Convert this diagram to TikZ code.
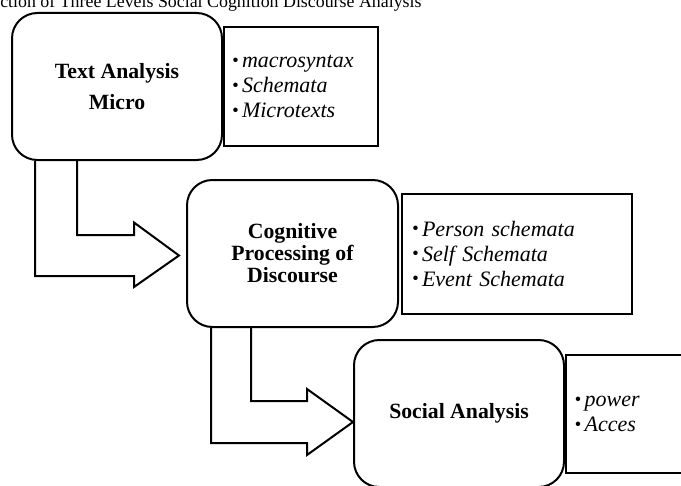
\documentclass[tikz,border=0pt]{standalone}
\usepackage{fontspec}
\setmainfont{Liberation Serif}
\usetikzlibrary{positioning}
\usetikzlibrary{calc}

\tikzset{
	stagebox/.style={draw, line width=1.5pt, rounded corners=19pt, align=center, inner sep=0pt,
		minimum width=157.5pt, minimum height=110.25pt, font=\fontsize{16.3}{16.5}\selectfont\bfseries},
	listbox/.style={draw, line width=1.5pt, align=left, inner ysep=0pt,
		font=\fontsize{16.5}{18.75}\selectfont\itshape},
	blockarrow/.style={line width=1.5pt}
}
\newcommand{\itm}[1]{\makebox[7.5pt][l]{\raisebox{0.8pt}{\fontsize{14}{14}\selectfont\textbullet}}#1}

\begin{document}
\begin{tikzpicture}[x=0.75pt, y=-0.75pt]
		\useasboundingbox (0,0) rectangle (681,485);
		\clip (0,0) rectangle (681,485);
		
		%title, cut off at the top
		\node[anchor=base west, inner sep=0pt, font=\fontsize{13.4}{16}\selectfont] (title) at (0,8) {ction of Three Levels Social Cognition Discourse Analysis};
		
		%stages & lists
		\node[stagebox] (micro) at (117,86.5) {Text Analysis\\[7pt]Micro};
		\node[listbox, right=0pt of micro, minimum height=89.25pt, text width=103.5pt, inner xsep=6pt] (microlist) {\itm{macrosyntax}\\ \itm{Schemata}\\ \itm{Microtexts}};
		
		\node[stagebox, minimum width=158.25pt] (cog) at (292.5,253.5) {Cognitive\\Processing of\\Discourse};
		\node[listbox, right=1.5pt of cog, minimum height=90pt, text width=157.5pt, inner xsep=7.5pt] (coglist) {\itm{Person schemata}\\ \itm{Self Schemata}\\ \itm{Event Schemata}};
		
		\node[stagebox] (soc) at (459,413.5) {Social Analysis};
		\node[listbox, right=0pt of soc, minimum height=88.5pt, text width=98.5pt, inner xsep=6.5pt] (soclist) {\itm{power}\\ \itm{Acces}};
		
		%arrows
		\coordinate (tip1) at ($(cog.west)+(-7,2)$);
		\draw[blockarrow] ($(micro.south west)+(24,0)$) |- ($(tip1)+(-45,20.5)$) -- ++(0,11) -- (tip1) -- ($(tip1)+(-45,-33)$) -- ++(0,12.5) -| ($(micro.south west)+(66,0)$);
		
		\coordinate (tip2) at ($(soc.west)+(0,8.5)$);
		\draw[blockarrow] ($(cog.south west)+(25,0)$) |- ($(tip2)+(-46,21)$) -- ++(0,12) -- (tip2) -- ($(tip2)+(-46,-33)$) -- ++(0,12) -| ($(cog.south west)+(65,0)$);
\end{tikzpicture}
\end{document}
